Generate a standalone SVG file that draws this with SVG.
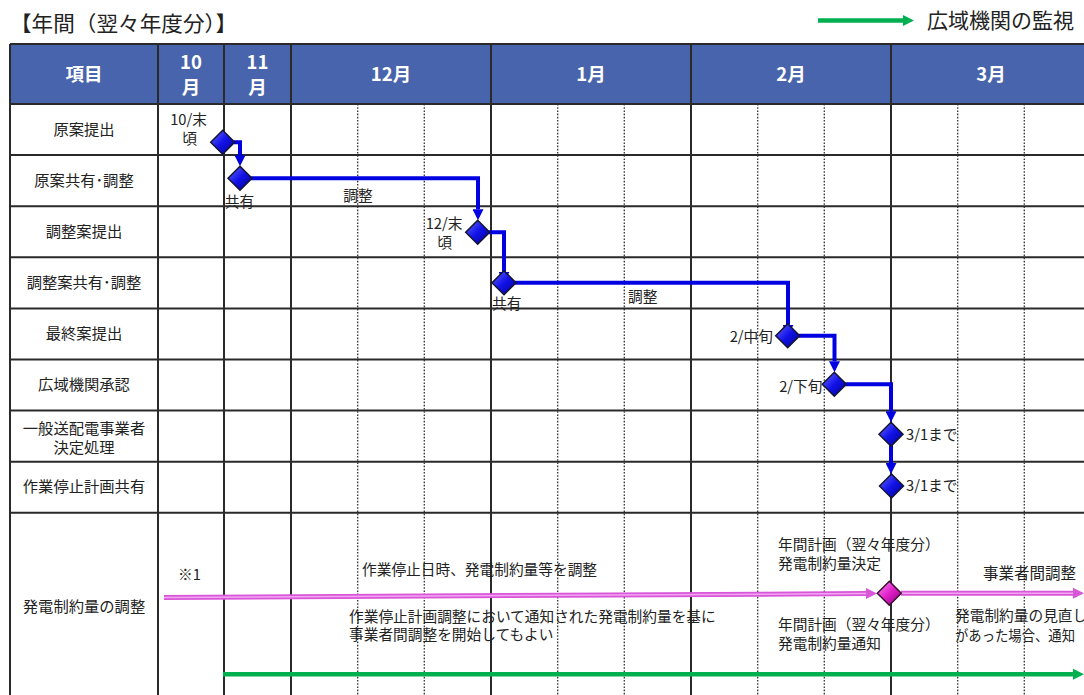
<svg xmlns="http://www.w3.org/2000/svg" width="1084" height="695" viewBox="0 0 1084 695">
<style>
.t{font-family:"Noto Sans CJK JP","Noto Sans",sans-serif;fill:#222;font-size:14.7px}
.r{font-size:15.3px}
.m{text-anchor:middle}
.e{text-anchor:end}
.h{font-family:"Noto Sans CJK JP","Noto Sans",sans-serif;font-weight:700;fill:#fff;font-size:18.5px;text-anchor:middle}
.big{font-family:"Noto Sans CJK JP","Noto Sans",sans-serif;fill:#222;font-size:21px}
.g{stroke:#2a2a2a;stroke-width:2;fill:none}
.d{stroke:#333;stroke-width:1.3;stroke-dasharray:1.6 1.6;fill:none}
.bl{stroke:#0000e0;stroke-width:4;fill:none;stroke-linejoin:miter;marker-end:url(#aB)}
.pk{stroke:#d856d8;stroke-width:5;fill:none}
.pk2{stroke:#f4a6f4;stroke-width:1.5;fill:none}
.gr{stroke:#00b050;stroke-width:4.5;fill:none;marker-end:url(#aG)}
.dB{fill:url(#gB);stroke:#141430;stroke-width:1.5}
.dP{fill:url(#gP);stroke:#3a1030;stroke-width:1.5}
</style>
<defs>
<linearGradient id="gB" x1="0" y1="0" x2="1" y2="1">
<stop offset="0" stop-color="#6a6aff"/><stop offset="0.5" stop-color="#1212e8"/><stop offset="1" stop-color="#00008c"/>
</linearGradient>
<linearGradient id="gP" x1="0" y1="0" x2="1" y2="1">
<stop offset="0" stop-color="#ff8cf4"/><stop offset="0.5" stop-color="#e020c8"/><stop offset="1" stop-color="#8a0078"/>
</linearGradient>
<path id="dia" d="M0,-12 L12,0 L0,12 L-12,0 Z"/>
<marker id="aB" viewBox="0 0 10 10" refX="0" refY="5" markerWidth="11" markerHeight="11" markerUnits="userSpaceOnUse" orient="auto"><path d="M0,0 L10,5 L0,10 Z" fill="#0000e0"/></marker>
<marker id="aP" viewBox="0 0 10 10" refX="0" refY="5" markerWidth="11" markerHeight="12" markerUnits="userSpaceOnUse" orient="auto"><path d="M0,0 L10,5 L0,10 Z" fill="#d856d8"/></marker>
<marker id="aG" viewBox="0 0 10 10" refX="0" refY="5" markerWidth="11" markerHeight="13" markerUnits="userSpaceOnUse" orient="auto"><path d="M0,0 L10,5 L0,10 Z" fill="#00b050"/></marker>
</defs>
<rect x="0" y="0" width="1084" height="695" fill="#fff"/>

<g id="title">
<text class="big" x="10" y="31" textLength="227" lengthAdjust="spacingAndGlyphs">【年間（翌々年度分）】</text>
</g>
<g id="legend">
<path class="gr" d="M818,20.5 L903,20.5"/>
<text class="big" x="927" y="28">広域機関の監視</text>
</g>

<g id="header">
<rect x="10" y="44" width="1084" height="60" fill="#4864ac"/>
<path class="g" d="M10,44 H1084 M10,44 V104 M158,44 V104 M224,44 V104 M291,44 V104 M491,44 V104 M691,44 V104 M891,44 V104"/>
<text class="h" x="84" y="81">項目</text>
<text class="h" x="191" y="69">10</text>
<text class="h" x="191" y="94">月</text>
<text class="h" x="257.5" y="69">11</text>
<text class="h" x="257.5" y="94">月</text>
<text class="h" x="391" y="81">12月</text>
<text class="h" x="591" y="81">1月</text>
<text class="h" x="791" y="81">2月</text>
<text class="h" x="991" y="81">3月</text>
</g>

<g id="grid">
<path class="d" d="M357.7,104 V695 M424.3,104 V695 M557.7,104 V695 M624.3,104 V695 M757.7,104 V695 M824.3,104 V695 M957.7,104 V695 M1024.3,104 V695"/>
<path class="g" d="M10,104 H1084 M10,155.1 H1084 M10,206.2 H1084 M10,257.3 H1084 M10,308.4 H1084 M10,359.5 H1084 M10,410.6 H1084 M10,461.7 H1084 M10,512.8 H1084"/>
<path class="g" d="M10,104 V695 M158,104 V695 M224,104 V695 M291,104 V695 M491,104 V695 M691,104 V695 M891,104 V695"/>
</g>

<g id="row-labels">
<text class="t r m" x="84" y="135">原案提出</text>
<text class="t r m" x="84" y="186">原案共有･調整</text>
<text class="t r m" x="84" y="237">調整案提出</text>
<text class="t r m" x="84" y="288">調整案共有･調整</text>
<text class="t r m" x="84" y="339">最終案提出</text>
<text class="t r m" x="84" y="390">広域機関承認</text>
<text class="t r m" x="84" y="434">一般送配電事業者</text>
<text class="t r m" x="84" y="453">決定処理</text>
<text class="t r m" x="84" y="492">作業停止計画共有</text>
<text class="t r m" x="84" y="612">発電制約量の調整</text>
</g>

<g id="connectors">
<path class="bl" d="M234,142.3 H240 V155.3"/>
<path class="bl" d="M251,178.3 H478 V209.3"/>
<path class="bl" d="M489,232.3 H504 V271.7"/>
<path class="bl" d="M515,282.7 H788 V324.7"/>
<path class="bl" d="M799,335.7 H834.5 V361.3"/>
<path class="bl" d="M845,384.3 H891 V411.3"/>
<path class="bl" d="M891,445.3 V463"/>
<path class="pk" d="M164,597.5 L866,593.6" marker-end="url(#aP)"/>
<path class="pk2" d="M164,597.5 L866,593.6"/>
<path class="pk" d="M901,593.3 L1073,593.3" marker-end="url(#aP)"/>
<path class="pk2" d="M901,593.3 L1073,593.3"/>
<path class="gr" d="M223,674.3 L1073,674.3"/>
</g>

<g id="n1"><use href="#dia" x="222.7" y="142.3" class="dB"/>
<text class="t m" x="188.5" y="125">10/末</text><text class="t m" x="189.5" y="144">頃</text></g>
<g id="n2"><use href="#dia" x="240" y="178.3" class="dB"/>
<text class="t m" x="239.5" y="207">共有</text><text class="t m" x="358" y="201">調整</text></g>
<g id="n3"><use href="#dia" x="477.7" y="232.3" class="dB"/>
<text class="t m" x="444" y="229">12/末</text><text class="t m" x="444.5" y="248">頃</text></g>
<g id="n4"><use href="#dia" x="504" y="282.7" class="dB"/>
<text class="t m" x="506.7" y="309">共有</text><text class="t m" x="642.7" y="302">調整</text></g>
<g id="n5"><use href="#dia" x="787.7" y="335.7" class="dB"/>
<text class="t e" x="773" y="342">2/中旬</text></g>
<g id="n6"><use href="#dia" x="834.3" y="384.3" class="dB"/>
<text class="t e" x="822.5" y="392">2/下旬</text></g>
<g id="n7"><use href="#dia" x="891" y="434.3" class="dB"/>
<text class="t" x="906" y="440">3/1まで</text></g>
<g id="n8"><use href="#dia" x="891.5" y="486" class="dB"/>
<text class="t" x="906" y="491">3/1まで</text></g>

<g id="n9"><use href="#dia" x="889.3" y="593.3" class="dP"/>
<text class="t" x="778" y="550">年間計画（翌々年度分）</text>
<text class="t" x="778" y="569">発電制約量決定</text>
<text class="t" x="778" y="630">年間計画（翌々年度分）</text>
<text class="t" x="778" y="649">発電制約量通知</text>
</g>

<g id="notes">
<text class="t" x="178" y="580">※1</text>
<text class="t" x="362" y="575">作業停止日時、発電制約量等を調整</text>
<text class="t" x="349" y="622">作業停止計画調整において通知された発電制約量を基に</text>
<text class="t" x="349" y="640">事業者間調整を開始してもよい</text>
<text class="t" x="983" y="579" style="font-size:15.5px">事業者間調整</text>
<text class="t" x="955" y="621">発電制約量の見直し</text>
<text class="t" x="955" y="641" textLength="120" lengthAdjust="spacingAndGlyphs">があった場合、通知</text>
</g>
</svg>
